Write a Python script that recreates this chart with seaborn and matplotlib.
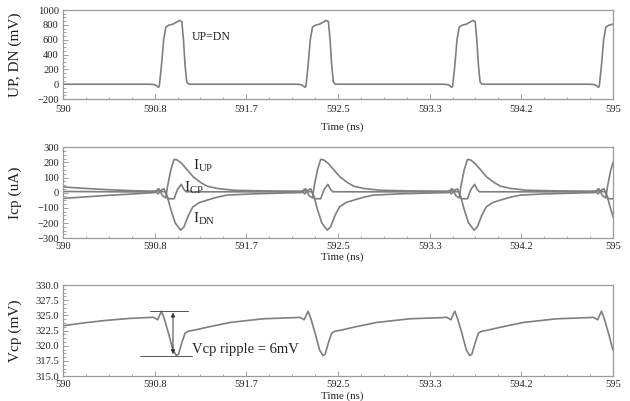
import numpy as np
import pandas as pd
import matplotlib
matplotlib.use("Agg")
import matplotlib.pyplot as plt
import seaborn as sns
from matplotlib.ticker import FixedLocator, AutoMinorLocator, FormatStrFormatter

# ---------------- data ----------------
pulse_times = [590.92, 592.253, 593.587, 594.92]

x_ticks = [590.0, 590.8333, 591.6667, 592.5, 593.3333, 594.1667, 595.0]
x_tick_labels = ["590", "590.8", "591.7", "592.5", "593.3", "594.2", "595"]

# UP = DN voltage (mV): leading segment + one pulse (offsets in ns from each pulse)
updn_lead_t = [590.0, 590.70]
updn_lead_v = [0, 0]
updn_off = [-0.14, -0.10, -0.075, -0.055, -0.045, -0.025, -0.005, 0.015, 0.04, 0.08, 0.11, 0.14, 0.16,
            0.175, 0.19, 0.205, 0.22, 0.25, 1.15]
updn_val = [0, -3, -15, -40, -30, 250, 600, 770, 795, 810, 835, 860, 845,
            600, 250, 30, 2, 0, 0]

# Currents (uA)
iup_lead_t = [590.0, 590.2, 590.4, 590.6, 590.75]
iup_lead_v = [38, 28, 20, 14, 11]
iup_off = [-0.10, -0.07, -0.06, -0.045, -0.035, -0.015, 0.015, 0.03, 0.06, 0.09, 0.12, 0.16,
           0.21, 0.265, 0.33, 0.39, 0.48, 0.63, 0.90, 1.20]
iup_val = [10, 12, 24, 24, 8, -20, -35, 40, 150, 220, 215, 192,
           150, 104, 68, 43, 28, 16, 12, 10]

idn_lead_t = [590.0, 590.2, 590.4, 590.6, 590.75]
idn_lead_v = [-38, -28, -18, -10, -3]
idn_off = [-0.10, -0.07, -0.055, -0.04, -0.02, 0.0, 0.03, 0.06, 0.10, 0.15, 0.18, 0.22,
           0.26, 0.32, 0.39, 0.48, 0.57, 0.80, 1.20]
idn_val = [0, 2, -8, 5, 20, 25, -30, -110, -200, -247, -225, -150,
           -94, -65, -49, -30, -16, -8, 0]

icp_lead_t = [590.0, 590.4, 590.75]
icp_lead_v = [8, 6, 5]
icp_off = [-0.10, -0.07, -0.055, -0.04, -0.02, 0.01, 0.035, 0.09, 0.12, 0.155, 0.18, 0.20, 1.20]
icp_val = [5, 5, 15, 5, 8, 5, -40, -40, 20, 55, 20, 6, 5]

# Vcp (mV)
vcp_lead_t = [590.0, 590.2, 590.4, 590.6]
vcp_lead_v = [323.3, 323.8, 324.2, 324.5]
vcp_off = [-0.10, -0.06, -0.025, 0.0, 0.04, 0.08, 0.11, 0.13, 0.16, 0.19, 0.22, 0.28,
           0.40, 0.60, 0.90, 1.20]
vcp_val = [324.7, 324.3, 325.7, 324.5, 322.0, 319.3, 318.4, 318.6, 320.5, 322.1, 322.4, 322.6,
           323.1, 323.85, 324.45, 324.65]


def build(lead_t, lead_v, off, val):
    t = list(lead_t)
    v = list(lead_v)
    for p in pulse_times:
        t += [p + o for o in off]
        v += list(val)
    return pd.DataFrame({"t": t, "v": v})


df_updn = build(updn_lead_t, updn_lead_v, updn_off, updn_val)
df_iup = build(iup_lead_t, iup_lead_v, iup_off, iup_val)
df_idn = build(idn_lead_t, idn_lead_v, idn_off, idn_val)
df_icp = build(icp_lead_t, icp_lead_v, icp_off, icp_val)
df_vcp = build(vcp_lead_t, vcp_lead_v, vcp_off, vcp_val)

# ---------------- style ----------------
sns.set_theme(style="white")
plt.rcParams["font.family"] = ["Liberation Serif", "DejaVu Serif"]
plt.rcParams["mathtext.default"] = "regular"
plt.rcParams["mathtext.fontset"] = "custom"
plt.rcParams["mathtext.rm"] = "Liberation Serif"
plt.rcParams["mathtext.it"] = "Liberation Serif"

LINE = "#7f7f7f"
FRAME = "#9a9a9a"

fig = plt.figure(figsize=(6.30, 4.01), dpi=100)
left, width = 0.100, 0.873
ax1 = fig.add_axes([left, 0.753, width, 0.222])
ax2 = fig.add_axes([left, 0.406, width, 0.227])
ax3 = fig.add_axes([left, 0.062, width, 0.227])

kw = dict(x="t", y="v", sort=False, estimator=None, color=LINE, linewidth=1.2)
sns.lineplot(data=df_updn, ax=ax1, **kw)
sns.lineplot(data=df_iup, ax=ax2, **kw)
sns.lineplot(data=df_idn, ax=ax2, **kw)
sns.lineplot(data=df_icp, ax=ax2, **kw)
sns.lineplot(data=df_vcp, ax=ax3, **kw)

ylims = [(-200, 1000), (-300, 300), (315, 330)]
yticks = [np.arange(-200, 1001, 200), np.arange(-300, 301, 100), np.arange(315, 330.1, 2.5)]
ylabels = ["UP, DN (mV)", "Icp (uA)", "Vcp (mV)"]
xlab_y = [-0.26, -0.16, -0.165]

for ax, yl, yt, lab, xly in zip([ax1, ax2, ax3], ylims, yticks, ylabels, xlab_y):
    ax.set_xlim(590, 595)
    ax.set_ylim(*yl)
    ax.xaxis.set_major_locator(FixedLocator(x_ticks))
    ax.set_xticklabels(x_tick_labels)
    ax.xaxis.set_minor_locator(AutoMinorLocator(4))
    ax.set_yticks(yt)
    ax.yaxis.set_minor_locator(AutoMinorLocator(4))
    ax.tick_params(axis="both", which="major", direction="in", length=3.5, width=0.7,
                   color=FRAME, labelsize=7.6, labelcolor="#222222", pad=3,
                   bottom=True, left=True)
    ax.tick_params(axis="both", which="minor", direction="in", length=1.8, width=0.6,
                   color=FRAME, bottom=True, left=True)
    ax.set_xlabel("Time (ns)", fontsize=7.8, color="#222222", labelpad=0)
    ax.xaxis.set_label_coords(0.508, xly)
    ax.set_ylabel(lab, fontsize=11, color="#222222")
    ax.yaxis.set_label_coords(-0.075, 0.5)
    for s in ax.spines.values():
        s.set_color(FRAME)
        s.set_linewidth(0.9)
        s.set_visible(True)
    ax.grid(False)

ax1.tick_params(axis="x", which="major", pad=4.5)
ax3.yaxis.set_major_formatter(FormatStrFormatter("%.1f"))

# ---------------- annotations ----------------
ax1.text(591.17, 636, "UP=DN", fontsize=8.5, color="#222222", ha="left", va="center")
ax2.text(591.18, 175, r"$I_{UP}$", fontsize=11, color="#222222", ha="left", va="center")
ax2.text(591.10, 30, r"$I_{CP}$", fontsize=11, color="#222222", ha="left", va="center")
ax2.text(591.18, -175, r"$I_{DN}$", fontsize=11, color="#222222", ha="left", va="center")

rip_hi = max(vcp_val)
rip_lo = min(vcp_val)
ax3.plot([590.79, 591.14], [rip_hi, rip_hi], color="#555555", lw=0.7)
ax3.plot([590.70, 591.17], [rip_lo, rip_lo], color="#555555", lw=0.7)
ax3.annotate("", xy=(591.0, rip_hi), xytext=(591.0, rip_lo),
             arrowprops=dict(arrowstyle="<|-|>", color="#333333", lw=0.7,
                             mutation_scale=6, shrinkA=1, shrinkB=1))
ax3.text(591.17, 319.4, "Vcp ripple = 6mV", fontsize=10.5, color="#222222",
         ha="left", va="center")

fig.savefig("out.png", dpi=100)
